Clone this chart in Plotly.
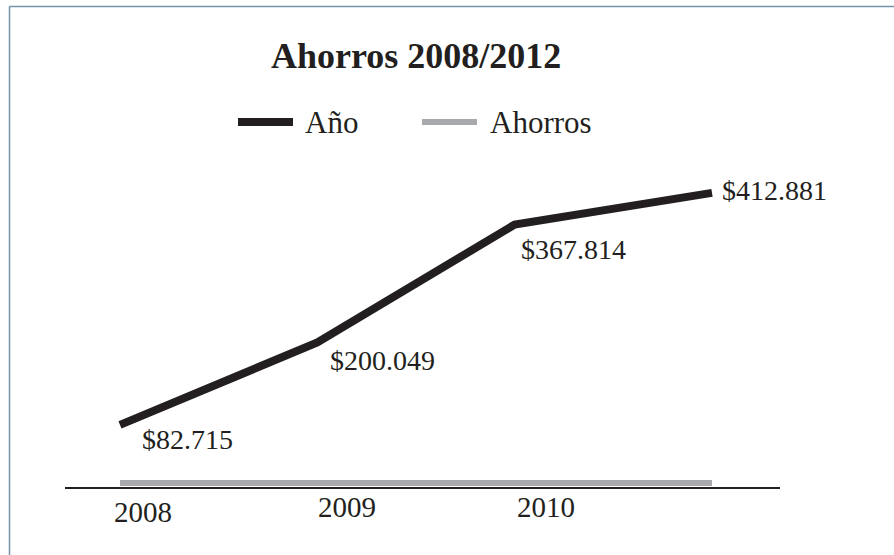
import plotly.graph_objects as go

# ---- data ----
years = [2008, 2009, 2010, 2011]
ano_values = [82715, 200049, 367814, 412881]
ahorros_values = [0, 0, 0, 0]
tick_years = [2008, 2009, 2010]
tick_labels = ["2008", "2009", "2010"]
title_text = "Ahorros 2008/2012"
series_names = ["Año", "Ahorros"]

def fmt(v):
    return "$" + f"{v:,}".replace(",", ".")

# ---- layout geometry (pixels) ----
W, H = 894, 555
L, R, T, B = 65, 780, 150, 487
pw, ph = R - L, B - T
def px(x):
    return (x - L) / pw
def py(y):
    return (B - y) / ph

SERIF = "Liberation Serif, Times New Roman, serif"
BLACK = "#231f20"
GRAY = "#a7a9ac"
BORDER = "#7393a7"

fig = go.Figure()
fig.add_trace(go.Scatter(x=years, y=ahorros_values, mode="lines", name=series_names[1],
                         line=dict(color=GRAY, width=6), showlegend=False, hoverinfo="skip"))
fig.add_trace(go.Scatter(x=years, y=ano_values, mode="lines", name=series_names[0],
                         line=dict(color=BLACK, width=8), showlegend=False))

# value labels
label_shift = [(20, -15), (11, -18), (4, -25), (8, 2)]
for xv, yv, (dx, dy) in zip(years, ano_values, label_shift):
    fig.add_annotation(x=xv, y=yv, text=fmt(yv), showarrow=False, xanchor="left", yanchor="middle",
                       xshift=dx, yshift=dy, font=dict(family=SERIF, size=28, color=BLACK))

# category labels under the axis (hand-placed in the original)
tick_offsets = [(23, 512), (30, 507), (31, 507)]
for tv, tt, (dx, ypix) in zip(tick_years, tick_labels, tick_offsets):
    fig.add_annotation(x=tv, xref="x", yref="paper", y=py(ypix), text=tt, showarrow=False,
                       xanchor="center", yanchor="middle", xshift=dx,
                       font=dict(family=SERIF, size=29, color=BLACK))

# custom legend
legend_items = [(series_names[0], BLACK, 8, 238, 293, 303), (series_names[1], GRAY, 6, 422, 477, 488)]
for name, col, w, x0, x1, xt in legend_items:
    fig.add_shape(type="line", xref="paper", yref="paper", x0=px(x0), x1=px(x1), y0=py(122), y1=py(122),
                  line=dict(color=col, width=w))
    fig.add_annotation(xref="paper", yref="paper", x=px(xt), y=py(122), text=name, showarrow=False,
                       xanchor="left", yanchor="middle", font=dict(family=SERIF, size=31, color=BLACK))

# title
fig.add_annotation(xref="paper", yref="paper", x=px(416), y=py(56), text="<b>" + title_text + "</b>",
                   showarrow=False, xanchor="center", yanchor="middle",
                   font=dict(family=SERIF, size=36, color=BLACK))

# frame (top and left edges)
fig.add_shape(type="line", xref="paper", yref="paper", x0=px(9.5), x1=px(9.5), y0=py(6.5), y1=py(560),
              line=dict(color=BORDER, width=1.5))
fig.add_shape(type="line", xref="paper", yref="paper", x0=px(9.5), x1=px(900), y0=py(6.5), y1=py(6.5),
              line=dict(color=BORDER, width=1.5))

# axis ranges: x(2008)->120px, 0 -> 483px
xpp = (712 - 120) / 3.0
x0v = 2008 - (120 - L) / xpp
x1v = x0v + pw / xpp
ypp = (425 - 193) / (ano_values[3] - ano_values[0])
y0v = -(B - 483) / ypp
y1v = y0v + ph / ypp

fig.update_layout(
    width=W, height=H, margin=dict(l=L, r=W - R, t=T, b=H - B),
    plot_bgcolor="white", paper_bgcolor="white",
    xaxis=dict(range=[x0v, x1v], tickvals=tick_years, showticklabels=False, showgrid=False,
               zeroline=False, showline=True, linecolor=BLACK, linewidth=2, ticks=""),
    yaxis=dict(range=[y0v, y1v], visible=False),
    showlegend=False,
)

fig.write_html("out.html")
